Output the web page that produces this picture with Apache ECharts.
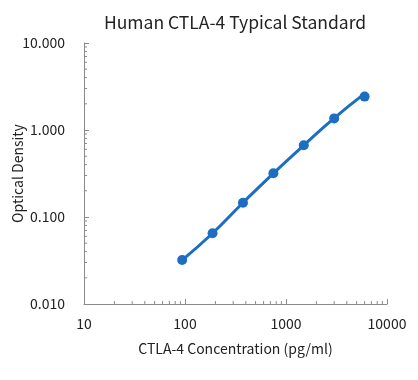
<!DOCTYPE html>
<html>
<head>
<meta charset="utf-8">
<script src="https://cdn.jsdelivr.net/npm/echarts@6/dist/echarts.min.js"></script>
<style>html,body{margin:0;padding:0;background:#fff}#c{width:418px;height:380px}</style>
</head>
<body>
<div id="c"></div>
<script>
var concentrations = [93.75, 187.5, 375, 750, 1500, 3000, 6000];
var odValues = [0.032, 0.065, 0.146, 0.318, 0.667, 1.36, 2.42];
var fitValues = [0.032, 0.065, 0.146, 0.318, 0.667, 1.37, 2.62];
var xMinorTicks = [20,30,40,50,60,70,80,90,200,300,400,500,600,700,800,900,2000,3000,4000,5000,6000,7000,8000,9000];
var yMinorTicks = [0.02,0.03,0.04,0.05,0.06,0.07,0.08,0.09,0.2,0.3,0.4,0.5,0.6,0.7,0.8,0.9,2,3,4,5,6,7,8,9];

var FONT = '"Noto Sans CJK SC", "Noto Sans", sans-serif';
var BLUE = '#1b6ec2';
var AXIS = '#8a8a8a';

var chart = echarts.init(document.getElementById('c'), null, {renderer: 'canvas'});

function pairs(xs, ys){ return xs.map(function(x,i){ return [x, ys[i]]; }); }

chart.setOption({
  animation: false,
  title: {
    text: 'Human CTLA-4 Typical Standard',
    left: 104, top: 14, padding: 0,
    textStyle: {fontFamily: FONT, fontSize: 17.5, fontWeight: 'normal', color: '#222'}
  },
  grid: {left: 84, right: 31, top: 43, bottom: 76, containLabel: false, outerBoundsMode: 'none'},
  xAxis: {
    type: 'log', logBase: 10, min: 10, max: 10000,
    name: 'CTLA-4 Concentration (pg/ml)', nameLocation: 'middle', nameGap: 38, nameMoveOverlap: false,
    nameTextStyle: {fontFamily: FONT, fontSize: 14, color: '#222'},
    axisLine: {show: true, lineStyle: {color: AXIS, width: 1}},
    axisTick: {show: true, inside: true, length: 5, lineStyle: {color: AXIS}},
    axisLabel: {fontFamily: FONT, fontSize: 14, color: '#222', margin: 13,
      formatter: function(v){ return String(Math.round(v)); }},
    splitLine: {show: false}
  },
  yAxis: {
    type: 'log', logBase: 10, min: 0.01, max: 10,
    name: 'Optical Density', nameLocation: 'middle', nameGap: 59, nameRotate: 90, nameMoveOverlap: false,
    nameTextStyle: {fontFamily: FONT, fontSize: 14, color: '#222'},
    axisLine: {show: true, lineStyle: {color: AXIS, width: 1}},
    axisTick: {show: true, inside: true, length: 5, lineStyle: {color: AXIS}},
    axisLabel: {fontFamily: FONT, fontSize: 14, color: '#222', margin: 19,
      formatter: function(v){ return Number(v).toFixed(3); }},
    splitLine: {show: false}
  },
  series: [
    {
      type: 'custom', silent: true, clip: false, z: 1,
      data: xMinorTicks.map(function(v){ return [v, 0.01]; }),
      renderItem: function(params, api){
        var p = api.coord([api.value(0), api.value(1)]);
        return {type: 'line', shape: {x1: p[0], y1: p[1], x2: p[0], y2: p[1]-3},
          style: {stroke: AXIS, lineWidth: 1}};
      }
    },
    {
      type: 'custom', silent: true, clip: false, z: 1,
      data: yMinorTicks.map(function(v){ return [10, v]; }),
      renderItem: function(params, api){
        var p = api.coord([api.value(0), api.value(1)]);
        return {type: 'line', shape: {x1: p[0], y1: p[1], x2: p[0]+3, y2: p[1]},
          style: {stroke: AXIS, lineWidth: 1}};
      }
    },
    {
      type: 'line', data: pairs(concentrations, fitValues), smooth: true,
      showSymbol: false, symbol: 'none',
      lineStyle: {color: BLUE, width: 3}, z: 2
    },
    {
      type: 'scatter', data: pairs(concentrations, odValues),
      symbol: 'circle', symbolSize: 10,
      itemStyle: {color: BLUE, opacity: 1}, z: 3
    }
  ]
});
</script>
</body>
</html>
